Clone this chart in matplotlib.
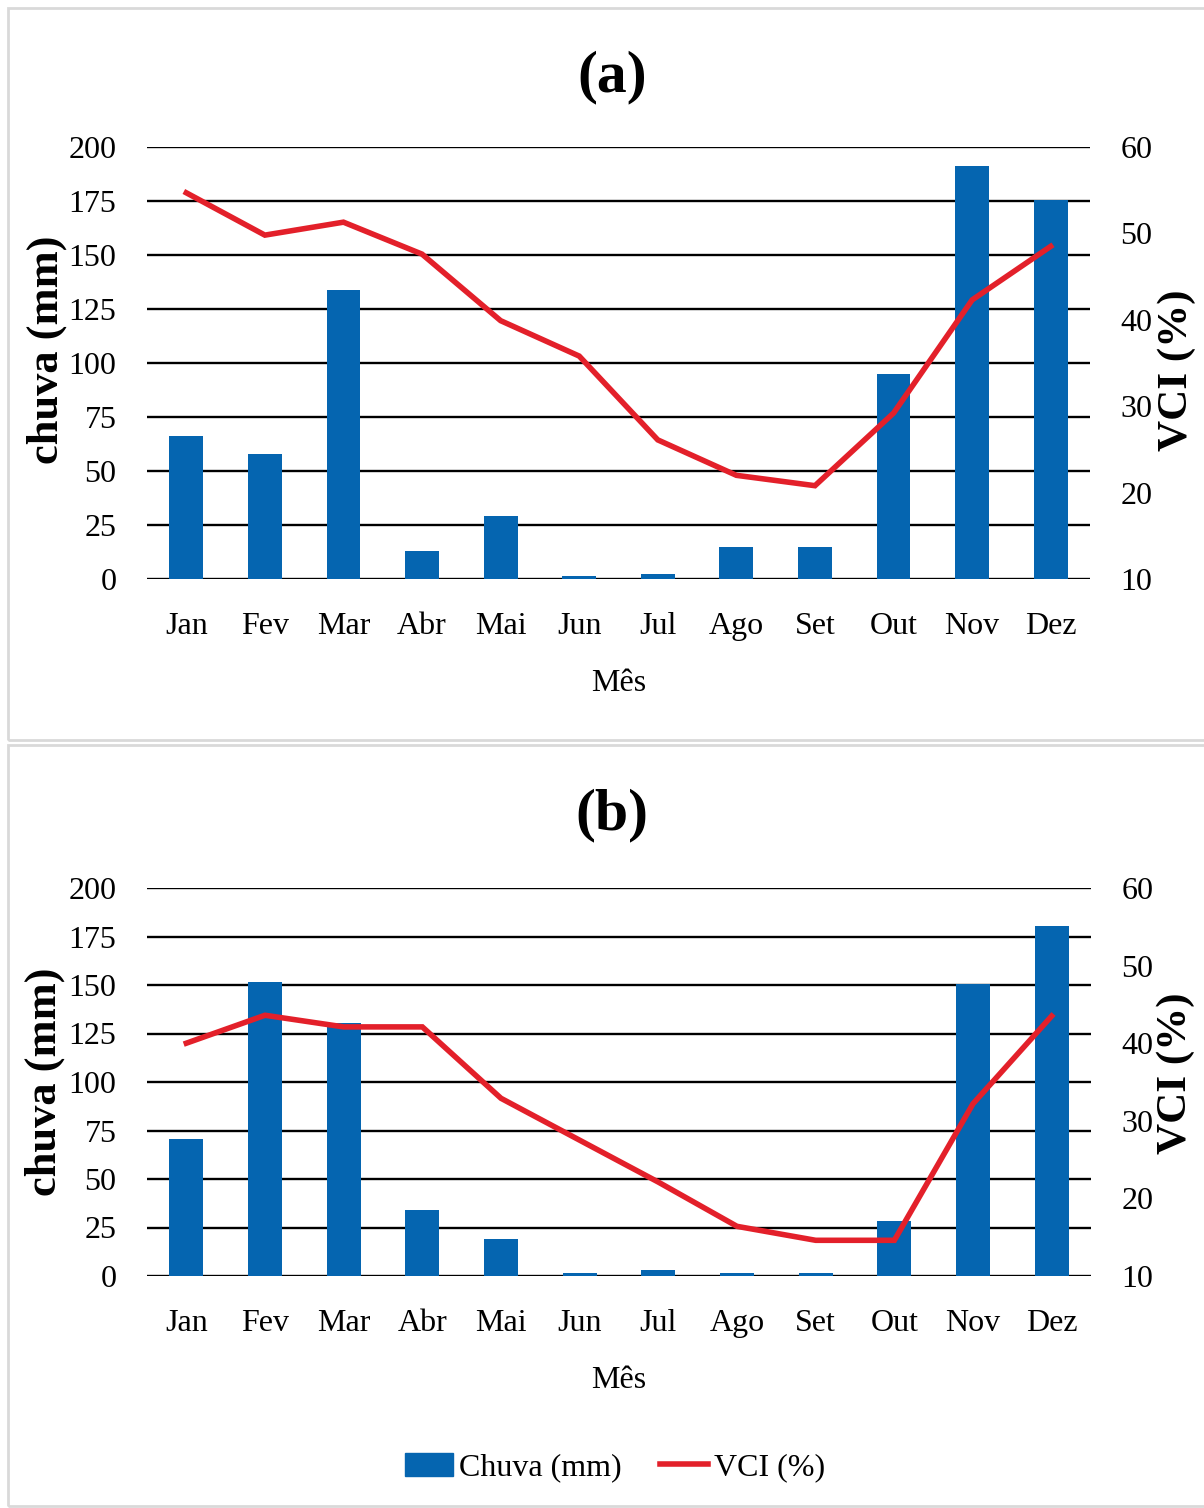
import matplotlib
matplotlib.use("Agg")
import matplotlib.pyplot as plt
from matplotlib.patches import Rectangle
from matplotlib.lines import Line2D

plt.rcParams["font.family"] = ["Liberation Serif", "DejaVu Serif"]

months = ["Jan", "Fev", "Mar", "Abr", "Mai", "Jun", "Jul", "Ago", "Set", "Out", "Nov", "Dez"]

chuva_a = [66, 58, 134, 13, 29, 1.5, 2.5, 15, 15, 95, 191, 175.5]
vci_a = [54.7, 49.8, 51.3, 47.6, 39.9, 35.8, 26.1, 22.0, 20.8, 29.2, 42.3, 48.5]

chuva_b = [70.5, 151.5, 130.5, 34, 19, 1.5, 3, 1.5, 1.5, 28.5, 150.5, 180.5]
vci_b = [40.0, 43.6, 42.1, 42.1, 32.9, 27.5, 22.1, 16.4, 14.6, 14.6, 32.2, 43.5]

left_ticks = [0, 25, 50, 75, 100, 125, 150, 175, 200]
right_ticks = [10, 20, 30, 40, 50, 60]

BLUE = "#0565B0"
RED = "#E3202A"
W, H = 1204, 1508


def px(x, y):
    return x / W, 1 - y / H


def draw_panel(rect, chuva, vci, tag, title_y, ylab_left, ylab_right):
    ax = fig.add_axes(rect)
    x = range(len(months))
    ax.bar(x, chuva, width=0.43, color=BLUE, zorder=2)
    ax.set_xlim(-0.5, len(months) - 0.5)
    ax.set_ylim(0, 200)
    ax.set_yticks(left_ticks)
    ax.set_xticks(list(x))
    ax.set_xticklabels(months)
    ax.yaxis.grid(True, color="black", lw=1.7)
    ax.set_axisbelow(True)
    for s in ax.spines.values():
        s.set_visible(False)
    ax.tick_params(axis="both", length=0, labelsize=23)
    ax.tick_params(axis="y", pad=22)
    ax.tick_params(axis="x", pad=24)
    ax.set_xlabel("Mês", fontsize=23, labelpad=20)

    ax2 = ax.twinx()
    ax2.plot(list(x), vci, color=RED, lw=4, solid_joinstyle="miter", zorder=3)
    ax2.set_ylim(10, 60)
    ax2.set_yticks(right_ticks)
    for s in ax2.spines.values():
        s.set_visible(False)
    ax2.tick_params(axis="y", length=0, labelsize=23, pad=22)

    fig.text(*px(*ylab_left), "chuva (mm)", rotation=90, ha="center", va="center",
             fontsize=32, fontweight="bold")
    fig.text(*px(*ylab_right), "VCI (%)", rotation=90, ha="center", va="center",
             fontsize=31, fontweight="bold")
    fig.text(*px(612, title_y), tag, ha="center", va="center",
             fontsize=43, fontweight="bold")
    return ax, ax2


fig = plt.figure(figsize=(W / 100, H / 100), dpi=100)

# panel frames
fig.patches.append(Rectangle(px(8, 740), 1200 / W, 732 / H,
                             transform=fig.transFigure, fill=False,
                             edgecolor="#d9d9d9", lw=2))
fig.patches.append(Rectangle(px(8, 1506), 1200 / W, 761 / H,
                             transform=fig.transFigure, fill=False,
                             edgecolor="#d9d9d9", lw=2))

draw_panel([147 / W, 1 - 579 / H, 943 / W, 432 / H], chuva_a, vci_a, "(a)", 77,
           (47, 350), (1177, 370))
draw_panel([147 / W, 1 - 1276 / H, 944 / W, 388 / H], chuva_b, vci_b, "(b)", 815,
           (45, 1082), (1176, 1073))

handles = [
    Rectangle((0, 0), 1, 1, color=BLUE),
    Line2D([0], [0], color=RED, lw=4),
]
fig.legend(handles, ["Chuva (mm)", "VCI (%)"], loc="center",
           bbox_to_anchor=px(615, 1468), ncol=2, frameon=False,
           fontsize=23, handlelength=1.5, handletextpad=0.2, columnspacing=1.2)

fig.savefig("out.png", dpi=100)
